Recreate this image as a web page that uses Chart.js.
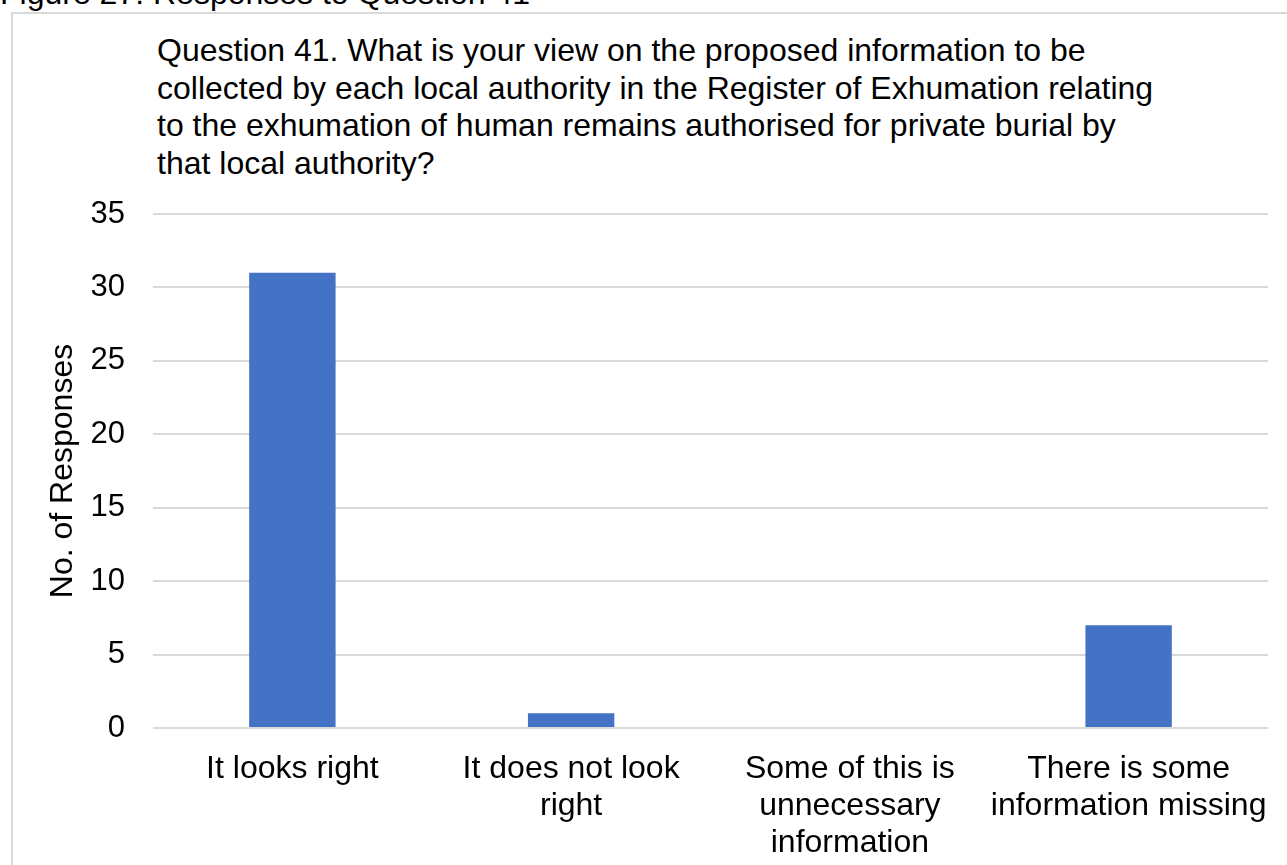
<!DOCTYPE html>
<html>
<head>
<meta charset="utf-8">
<title>Responses to Question 41</title>
<script src="https://cdn.jsdelivr.net/npm/chart.js@4.4.1/dist/chart.umd.min.js"></script>
<style>
    html, body {
        margin: 0;
        padding: 0;
        width: 1287px;
        height: 865px;
        overflow: hidden;
        background: #ffffff;
        font-family: "Liberation Sans", Arial, sans-serif;
    }
    .caption {
        position: absolute;
        left: 0;
        top: -25px;
        font-size: 32px;
        line-height: 37.5px;
        color: #000;
        white-space: nowrap;
    }
    .frame {
        position: absolute;
        left: 11px;
        top: 12px;
        width: 1300px;
        height: 900px;
        border: 2px solid #d9d9d9;
        box-sizing: border-box;
    }
    .chart-title {
        position: absolute;
        left: 157px;
        top: 32px;
        font-size: 32px;
        line-height: 37.5px;
        color: #000;
        white-space: nowrap;
    }
    #chart {
        position: absolute;
        left: 0;
        top: 0;
    }
</style>
</head>
<body>
<div class="caption">Figure 27: Responses to Question 41</div>
<div class="frame"></div>
<div class="chart-title">
    Question 41. What is your view on the proposed information to be<br>
    collected by each local authority in the Register of Exhumation relating<br>
    to the exhumation of human remains authorised for private burial by<br>
    that local authority?
</div>
<canvas id="chart" width="1287" height="865"></canvas>

<script>
const categories = [
    ['It looks right'],
    ['It does not look', 'right'],
    ['Some of this is', 'unnecessary', 'information'],
    ['There is some', 'information missing']
];
const responses = [31, 1, 0, 7];
const yTicks = [0, 5, 10, 15, 20, 25, 30, 35];

const family = '"Liberation Sans", Arial, sans-serif';

new Chart(document.getElementById('chart'), {
    type: 'bar',
    data: {
        labels: categories,
        datasets: [{
            data: responses,
            backgroundColor: '#4472c4',
            borderWidth: 0,
            barPercentage: 0.31,
            categoryPercentage: 1
        }]
    },
    options: {
        responsive: false,
        animation: false,
        layout: { padding: { top: 214, right: 19, bottom: 0, left: 0 } },
        plugins: {
            legend: { display: false },
            tooltip: { enabled: false }
        },
        scales: {
            x: {
                grid: { display: false, drawTicks: false },
                border: { display: false },
                ticks: {
                    color: '#000',
                    font: { family, size: 32, lineHeight: 1.15 },
                    padding: 23,
                    maxRotation: 0,
                    autoSkip: false
                },
                afterFit: scale => {
                    scale.height = 137;
                    // labels fit inside their categories, no extra side room
                    scale.paddingLeft = 0;
                    scale.paddingRight = 0;
                }
            },
            y: {
                min: 0,
                max: 35,
                afterBuildTicks: scale => {
                    scale.ticks = yTicks.map(v => ({ value: v }));
                },
                grid: { color: '#d9d9d9', lineWidth: 2, drawTicks: false },
                border: { display: false },
                ticks: {
                    color: '#000',
                    font: { family, size: 31 },
                    padding: 28
                },
                title: {
                    display: true,
                    text: 'No. of Responses',
                    color: '#000',
                    font: { family, size: 32 },
                    padding: { top: 44, bottom: 0 }
                },
                afterFit: scale => {
                    scale.width = 153;
                    scale.paddingTop = 0;
                    scale.paddingBottom = 0;
                }
            }
        }
    }
});
</script>
</body>
</html>
